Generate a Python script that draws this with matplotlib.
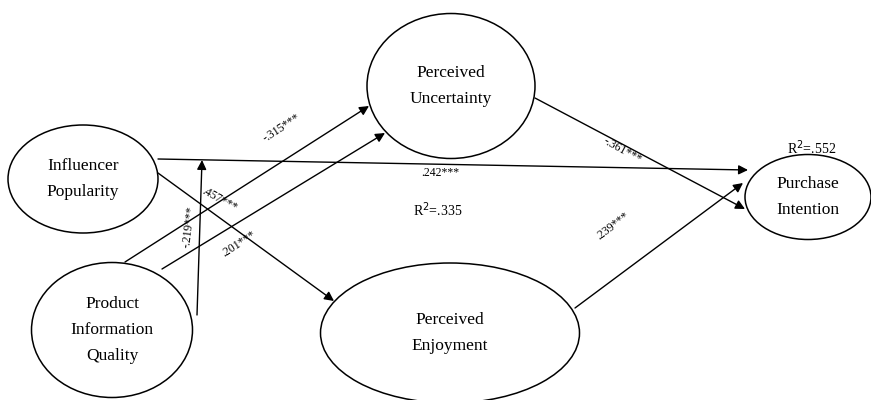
import matplotlib
matplotlib.use("Agg")
import matplotlib.pyplot as plt
from matplotlib.patches import Ellipse

plt.rcParams["font.family"] = ["Liberation Serif", "DejaVu Serif"]

# constructs (label lines)
constructs = ["Influencer\nPopularity", "Product\nInformation\nQuality",
              "Perceived\nUncertainty", "Perceived\nEnjoyment",
              "Purchase\nIntention"]

# path coefficients
coef_labels = ["-.315***", ".457***", "-.219***", ".201***",
               ".242***", "-.361***", ".239***"]
r2_labels = ["R$^2$=.335", "R$^2$=.552"]

# layout in pixel space (x right, y down)
node_xy = [(83, 179), (112, 330), (451, 86), (450, 333), (808, 197)]
node_wh = [(150, 108), (161, 135), (168, 145), (259, 140), (126, 85)]

arrows = [
    ((158, 159), (748, 170)),   # popularity -> intention
    ((197, 315), (202, 160)),   # moderation arrow
    ((158, 173), (334, 301)),   # popularity -> enjoyment
    ((125, 262), (369, 106)),   # quality -> uncertainty
    ((162, 269), (385, 133)),   # quality -> uncertainty
    ((535, 98), (745, 209)),    # uncertainty -> intention
    ((575, 308), (743, 183)),   # enjoyment -> intention
]

coef_pos = [(282, 128, 33), (219, 200, -29), (189, 227, 83), (239, 244, 33),
            (440, 173, 0), (622, 151, -29), (613, 226, 37)]
r2_pos = [(438, 210), (812, 148)]

fig = plt.figure(figsize=(8.71, 4), dpi=100)
ax = fig.add_axes([0, 0, 1, 1])
ax.set_xlim(0, 871)
ax.set_ylim(400, 0)
ax.axis("off")

for name, (x, y), (w, h) in zip(constructs, node_xy, node_wh):
    ax.add_patch(Ellipse((x, y), w, h, fill=False, edgecolor="black", lw=1.1))
    ax.text(x, y, name, ha="center", va="center", fontsize=12.5,
            linespacing=1.85)

for (x0, y0), (x1, y1) in arrows:
    ax.annotate("", xy=(x1, y1), xytext=(x0, y0),
                arrowprops=dict(arrowstyle="-|>", color="black", lw=1.0,
                                mutation_scale=14, shrinkA=0, shrinkB=0))

for lab, (x, y, rot) in zip(coef_labels, coef_pos):
    ax.text(x, y, lab, ha="center", va="center", fontsize=8.5, rotation=rot,
            rotation_mode="anchor")

for lab, (x, y) in zip(r2_labels, r2_pos):
    ax.text(x, y, lab, ha="center", va="center", fontsize=10)

fig.savefig("out.png", dpi=100, facecolor="white")
